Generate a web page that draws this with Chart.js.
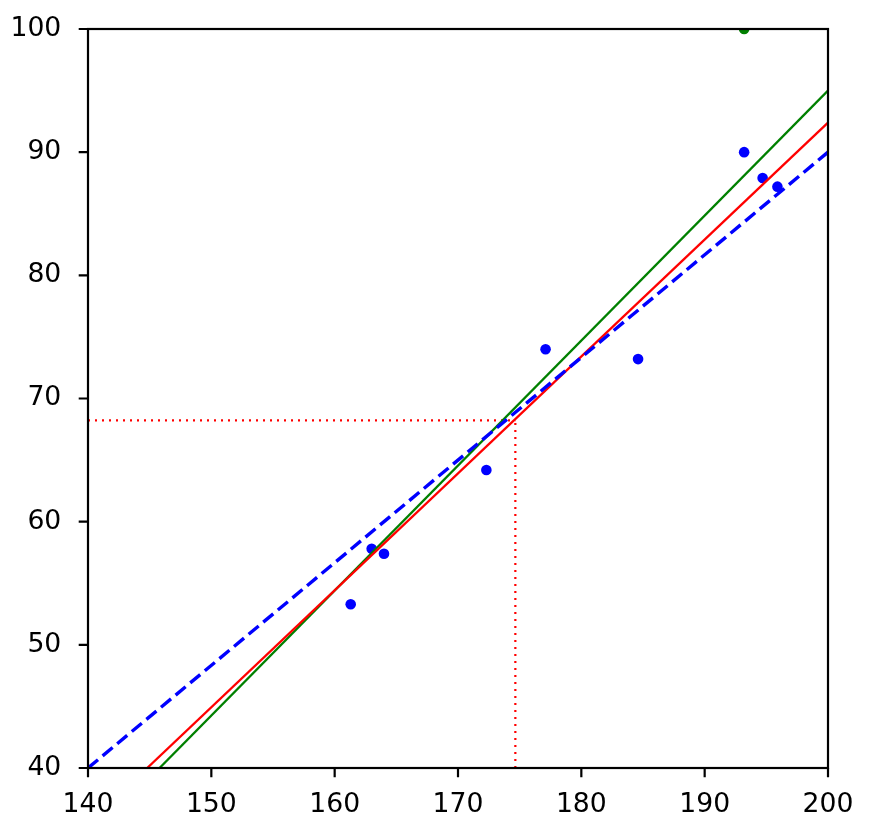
<!DOCTYPE html>
<html>
<head>
<meta charset="utf-8">
<script src="https://cdn.jsdelivr.net/npm/chart.js@4/dist/chart.umd.min.js"></script>
<style>
  html, body { margin: 0; padding: 0; background: #fff; }
  #wrap { width: 872px; height: 832px; }
</style>
</head>
<body>
<div id="wrap"><canvas id="c" width="872" height="832"></canvas></div>
<script>
// --- data ---
const sampleX = [161.3, 163.0, 164.0, 172.3, 177.1, 184.6, 193.2, 194.7, 195.9];
const sampleY = [53.3, 57.8, 57.4, 64.2, 74.0, 73.2, 90.0, 87.9, 87.2];
const outlierX = [193.2];
const outlierY = [100.0];
const dashedFitX = [140, 200];
const dashedFitY = [40, 90];
const redFitX = [144.8, 200];
const redFitY = [40, 92.4];
const greenFitX = [145.8, 200];
const greenFitY = [40, 95.0];
const guideX = 174.65;
const guideY = 68.22;
const xTicks = [140, 150, 160, 170, 180, 190, 200];
const yTicks = [40, 50, 60, 70, 80, 90, 100];

const toPts = (xs, ys) => xs.map((x, i) => ({ x: x, y: ys[i] }));

const TICK_LEN = 9.3;
const frame = {
  id: 'frame',
  afterDraw(chart) {
    const a = chart.chartArea, ctx = chart.ctx;
    const xs = chart.scales.x, ys = chart.scales.y;
    ctx.save();
    ctx.strokeStyle = '#000';
    ctx.lineWidth = 2.2;
    ctx.setLineDash([]);
    ctx.strokeRect(a.left, a.top, a.right - a.left, a.bottom - a.top);
    ctx.beginPath();
    xTicks.forEach(v => {
      const px = xs.getPixelForValue(v);
      ctx.moveTo(px, a.bottom);
      ctx.lineTo(px, a.bottom + TICK_LEN);
    });
    yTicks.forEach(v => {
      const py = ys.getPixelForValue(v);
      ctx.moveTo(a.left, py);
      ctx.lineTo(a.left - TICK_LEN, py);
    });
    ctx.stroke();
    ctx.restore();
  }
};

new Chart(document.getElementById('c'), {
  type: 'scatter',
  data: {
    datasets: [
      { data: toPts(sampleX, sampleY), backgroundColor: '#0000ff', borderColor: '#0000ff',
        pointRadius: 5.3, pointBorderWidth: 0, order: 5 },
      { data: toPts(outlierX, outlierY), backgroundColor: '#008000', borderColor: '#008000',
        pointRadius: 5.3, pointBorderWidth: 0, order: 5, clip: 0 },
      { data: toPts(dashedFitX, dashedFitY), showLine: true, borderColor: '#0000ff', borderWidth: 3.4,
        borderDash: [13, 6], pointRadius: 0, order: 1 },
      { data: toPts(redFitX, redFitY), showLine: true, borderColor: '#ff0000', borderWidth: 2.3,
        pointRadius: 0, order: 2 },
      { data: toPts(greenFitX, greenFitY), showLine: true, borderColor: '#008000', borderWidth: 2.3,
        pointRadius: 0, order: 2 },
      { data: toPts([xTicks[0], guideX], [guideY, guideY]), showLine: true, borderColor: '#ff0000',
        borderWidth: 2.2, borderDash: [2, 5], pointRadius: 0, order: 3 },
      { data: toPts([guideX, guideX], [yTicks[0], guideY]), showLine: true, borderColor: '#ff0000',
        borderWidth: 2.2, borderDash: [2, 5], pointRadius: 0, order: 3 }
    ]
  },
  options: {
    responsive: false,
    animation: false,
    layout: { padding: { left: 0, top: 29, right: 44, bottom: 0 } },
    plugins: { legend: { display: false }, tooltip: { enabled: false } },
    scales: {
      x: {
        type: 'linear', min: 140, max: 200,
        afterBuildTicks: (s) => { s.ticks = xTicks.map(v => ({ value: v })); },
        afterFit: (s) => { s.height = 64; s.paddingLeft = 0; s.paddingRight = 0; },
        grid: { display: false },
        border: { display: false },
        ticks: { color: '#000', font: { family: 'DejaVu Sans', size: 26.67 }, padding: 13, maxRotation: 0 }
      },
      y: {
        type: 'linear', min: 40, max: 100,
        afterBuildTicks: (s) => { s.ticks = yTicks.map(v => ({ value: v })); },
        afterFit: (s) => { s.width = 88; s.paddingTop = 0; s.paddingBottom = 0; },
        grid: { display: false },
        border: { display: false },
        ticks: { color: '#000', font: { family: 'DejaVu Sans', size: 26.67 }, padding: 18.7 }
      }
    }
  },
  plugins: [frame]
});
</script>
</body>
</html>
